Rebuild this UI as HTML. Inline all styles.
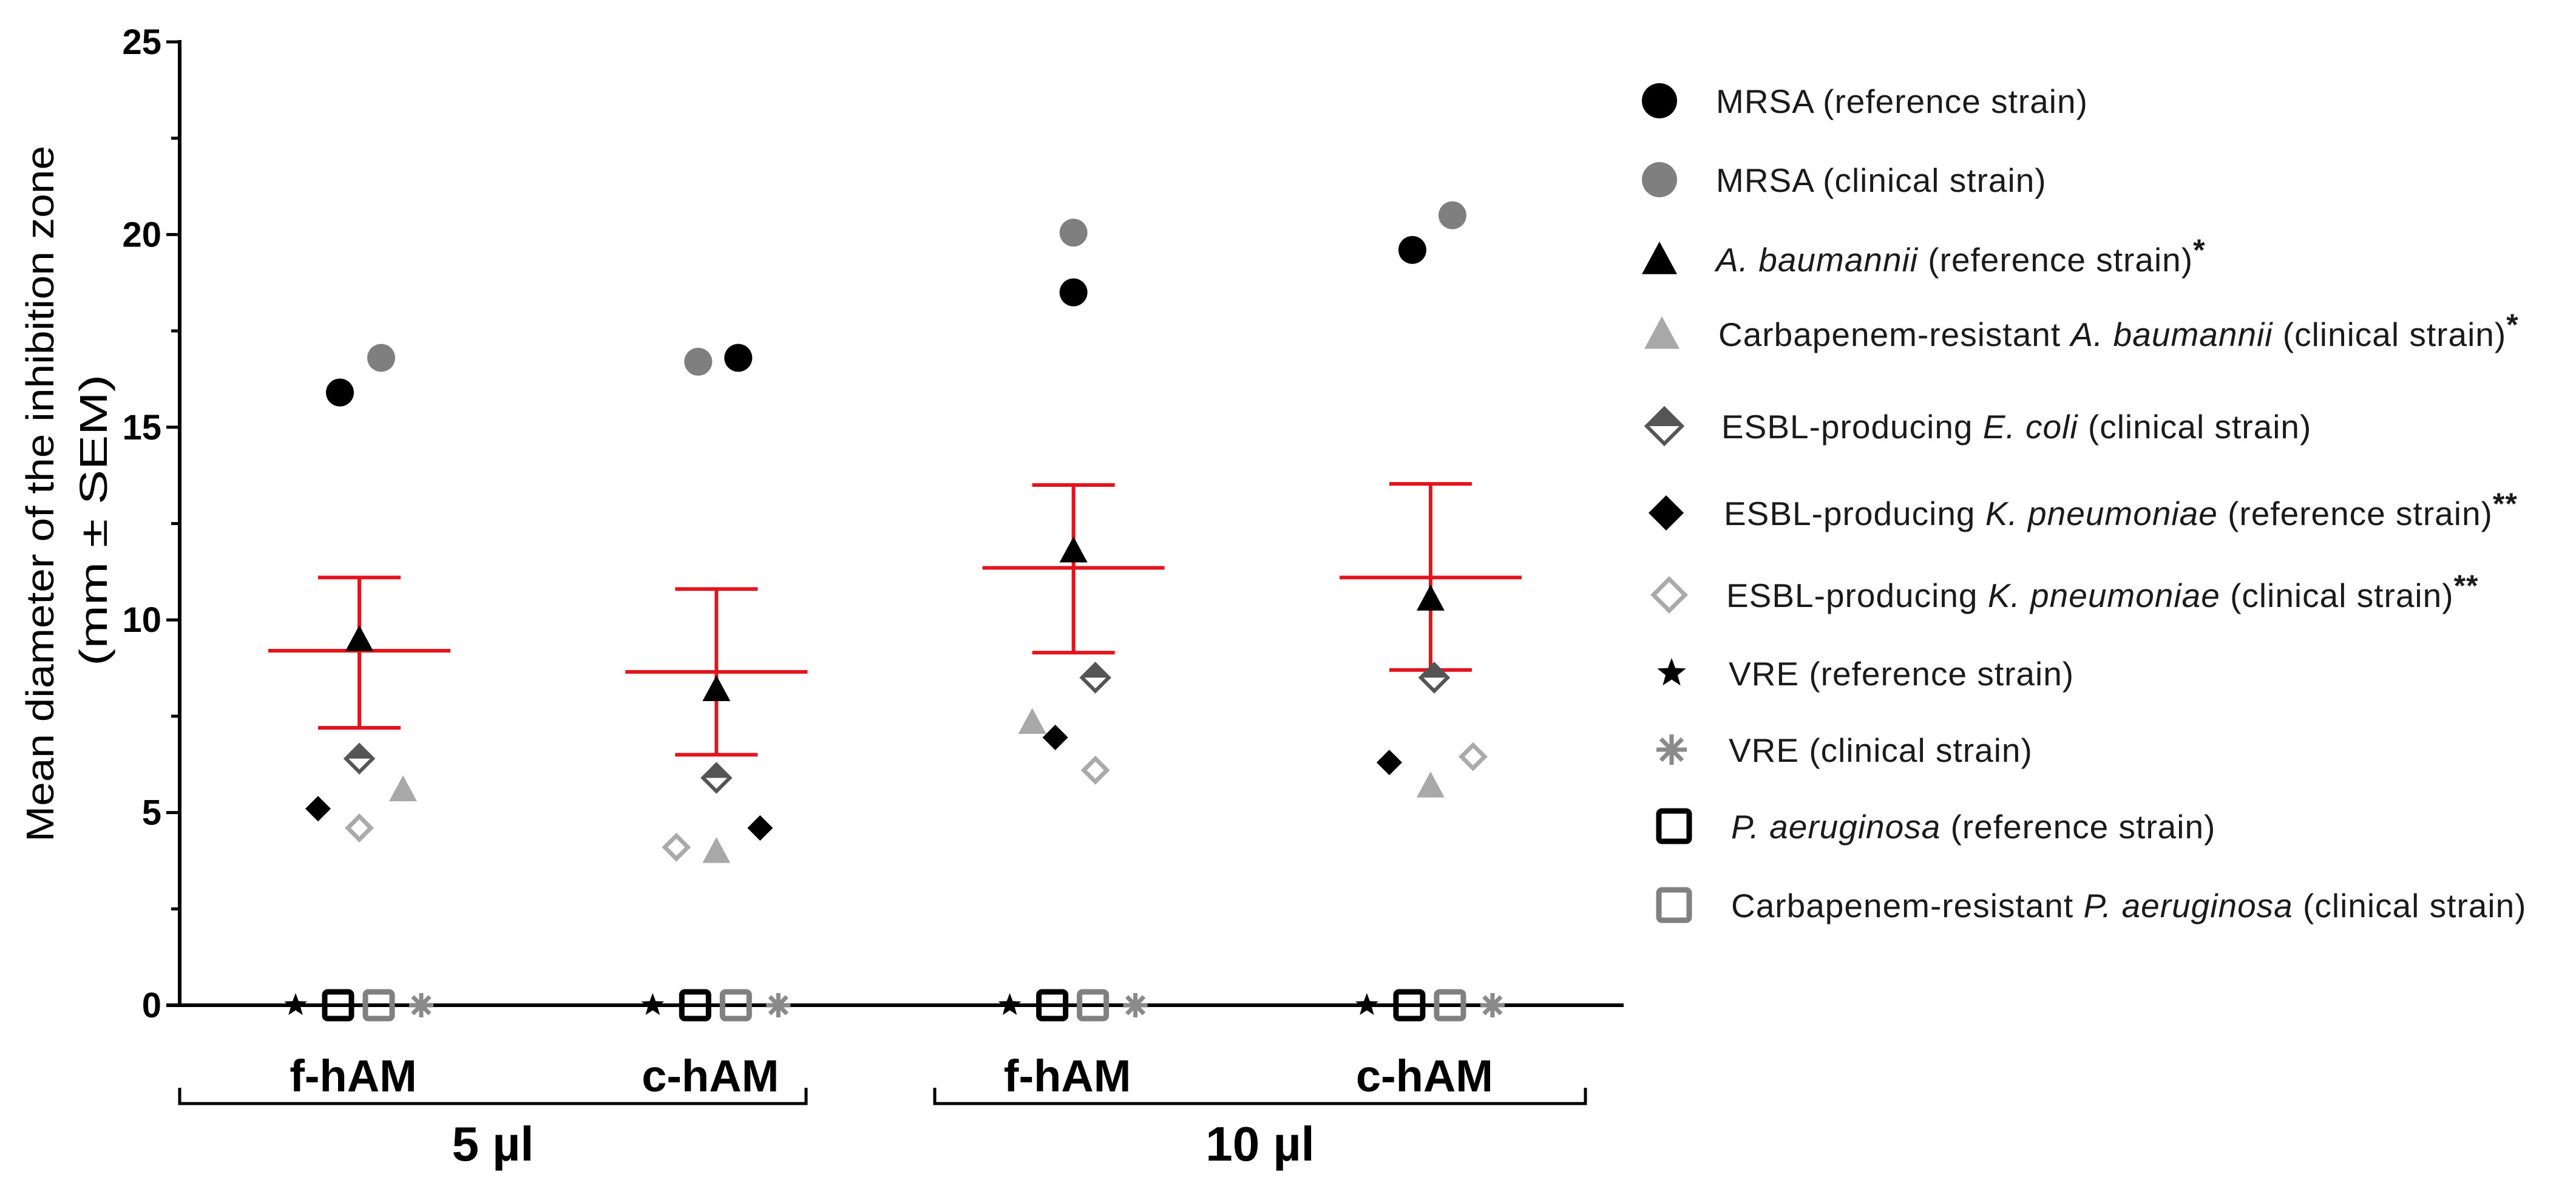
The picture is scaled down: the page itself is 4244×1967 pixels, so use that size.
<!DOCTYPE html>
<html><head><meta charset="utf-8"><style>
html,body{margin:0;padding:0;background:#fff;}
svg{display:block;font-family:"Liberation Sans",Arial,sans-serif;}
</style></head><body>
<svg id="chart" width="4244" height="1967" viewBox="0 0 4244 1967" xmlns="http://www.w3.org/2000/svg">
<rect width="4244" height="1967" fill="#fff"/>
<g id="yaxis"></g>
<g id="xaxis"></g>
<g id="errs"></g>
<g id="pts"></g>
<g id="legend"></g>
<text transform="translate(88,1387) rotate(-90)" font-size="64" textLength="1147" lengthAdjust="spacingAndGlyphs" fill="#000">Mean diameter of the inhibition zone</text>
<text transform="translate(176,1097) rotate(-90)" font-size="64" textLength="480" lengthAdjust="spacingAndGlyphs" fill="#000">(mm ± SEM)</text>
</svg>
<script>
const categories = ["f-hAM","c-hAM","f-hAM","c-hAM"];
const volumeGroups = ["5 µl","10 µl"];
const yTicks = [0,5,10,15,20,25];
const means = [9.2, 8.65, 11.35, 11.1];
const semUpper = [11.1, 10.8, 13.5, 13.53];
const semLower = [7.2, 6.5, 9.15, 8.7];
const mrsaRef = [15.9, 16.8, 18.5, 19.6];
const mrsaClin = [16.8, 16.7, 20.05, 20.5];
const abauRef = [9.5, 8.2, 11.8, 10.55];
const abauClin = [5.6, 4.0, 7.35, 5.7];
const ecoliClin = [6.4, 5.9, 8.5, 8.5];
const kpnRef = [5.1, 4.6, 6.95, 6.3];
const kpnClin = [4.6, 4.1, 6.1, 6.45];
const vreRef = [0, 0, 0, 0];
const vreClin = [0, 0, 0, 0];
const paeRef = [0, 0, 0, 0];
const paeClin = [0, 0, 0, 0];
// horizontal jitter offsets (px) of each marker within its category
const jitMrsaRef = [-32, 36, 0, -30];
const jitMrsaClin = [36, -30, 0, 36];
const jitAbauClin = [72, 0, -68, 0];
const jitEcoli = [0, 0, 36, 6];
const jitKpnRef = [-68, 72, -30, -68];
const jitKpnClin = [0, -66, 36, 70];

const NS = "http://www.w3.org/2000/svg";
const X0 = 296, X1 = 2675, Y0 = 1656, Y25 = 69;
function y(v){ return Y0 - (v/25)*(Y0-Y25); }
function x(i){ return 592 + i*588.3; }
function el(tag, attrs, parent){ const e=document.createElementNS(NS,tag); for(const k in attrs) e.setAttribute(k,attrs[k]); parent.appendChild(e); return e; }

// Y axis
const ya = document.getElementById('yaxis');
let yl = el('line',{x1:X0,y1:Y25-3,x2:X0,y2:Y0+3,stroke:'#000','stroke-width':6},ya);


for(let v=0; v<=25; v+=2.5){
  const major = (v%5===0);
  const t = el('line',{x1:X0-(major?22:14),y1:y(v),x2:X0,y2:y(v),stroke:'#000','stroke-width':5},ya);
  
  
}
yTicks.forEach(v=>{
  const t = el('text',{x:266,y:y(v)+20,'font-size':58,'font-weight':'bold','text-anchor':'end',fill:'#000'},ya);
  t.textContent = v;
  
  
});

// X axis
const xa = document.getElementById('xaxis');
let xl = el('line',{x1:X0-22,y1:Y0,x2:X1,y2:Y0,stroke:'#000','stroke-width':6},xa);


categories.forEach((c,i)=>{
  const t = el('text',{x:x(i)-10,y:1798,'font-size':74,'font-weight':'bold','text-anchor':'middle',fill:'#000'},xa);
  t.textContent = c;
  
  
});
const brackets = [[296,1328],[1540,2612]];
volumeGroups.forEach((g,i)=>{
  const [a,b] = brackets[i];
  const p = el('path',{d:`M${a} 1792 V1818 H${b} V1792`,fill:'none',stroke:'#000','stroke-width':5},xa);
  
  
  const t = el('text',{x:(a+b)/2,y:1912,'font-size':80,'font-weight':'bold','text-anchor':'middle',fill:'#000'},xa);
  t.textContent = g;
  
  
});

// Error bars
const eg = document.getElementById('errs');
const RED = '#e3141c';
means.forEach((m,i)=>{
  const cx = x(i);
  const g = el('g',{stroke:RED,'stroke-width':6,fill:'none'},eg);
  
  
  el('line',{x1:cx,y1:y(semUpper[i]),x2:cx,y2:y(semLower[i])},g);
  el('line',{x1:cx-68,y1:y(semUpper[i]),x2:cx+68,y2:y(semUpper[i])},g);
  el('line',{x1:cx-68,y1:y(semLower[i]),x2:cx+68,y2:y(semLower[i])},g);
  el('line',{x1:cx-150,y1:y(m),x2:cx+150,y2:y(m)},g);
});

// Marker drawing
function marker(type, cx, cy, s, parent){
  const g = el('g',{},parent);
  const h = s/2;
  switch(type){
    case 'circle-black': el('circle',{cx,cy,r:h,fill:'#000'},g); break;
    case 'circle-grey': el('circle',{cx,cy,r:h,fill:'#7f7f7f'},g); break;
    case 'tri-black': el('polygon',{points:`${cx},${cy-h} ${cx+h},${cy+h*0.85} ${cx-h},${cy+h*0.85}`,fill:'#000'},g); break;
    case 'tri-grey': el('polygon',{points:`${cx},${cy-h} ${cx+h},${cy+h*0.85} ${cx-h},${cy+h*0.85}`,fill:'#a8a8a8'},g); break;
    case 'dia-half':
      el('polygon',{points:`${cx},${cy-h} ${cx+h},${cy} ${cx},${cy+h} ${cx-h},${cy}`,fill:'#fff',stroke:'#555','stroke-width':6},g);
      el('polygon',{points:`${cx},${cy-h} ${cx+h},${cy} ${cx-h},${cy}`,fill:'#555'},g); break;
    case 'dia-black': el('polygon',{points:`${cx},${cy-h} ${cx+h},${cy} ${cx},${cy+h} ${cx-h},${cy}`,fill:'#000'},g); break;
    case 'dia-open': el('polygon',{points:`${cx},${cy-h+3} ${cx+h-3},${cy} ${cx},${cy+h-3} ${cx-h+3},${cy}`,fill:'#fff',stroke:'#aaa','stroke-width':7},g); break;
    case 'star': {
      let pts=[]; for(let k=0;k<10;k++){const r=k%2?h*0.42:h; const a=-Math.PI/2+k*Math.PI/5; pts.push(`${cx+r*Math.cos(a)},${cy+r*Math.sin(a)}`);}
      el('polygon',{points:pts.join(' '),fill:'#000'},g); break; }
    case 'asterisk':
      for(let k=0;k<4;k++){const a=k*Math.PI/4; el('line',{x1:cx-h*Math.cos(a),y1:cy-h*Math.sin(a),x2:cx+h*Math.cos(a),y2:cy+h*Math.sin(a),stroke:'#8a8a8a','stroke-width':7},g);} break;
    case 'sq-black': el('rect',{x:cx-h+4,y:cy-h+4,width:s-8,height:s-8,rx:5,fill:'none',stroke:'#000','stroke-width':9},g); break;
    case 'sq-grey': el('rect',{x:cx-h+4,y:cy-h+4,width:s-8,height:s-8,rx:5,fill:'none',stroke:'#808080','stroke-width':9},g); break;
  }
  return g;
}

const series = [
  {name:'MRSA (reference strain)', data:mrsaRef, jit:jitMrsaRef, type:'circle-black', size:46},
  {name:'MRSA (clinical strain)', data:mrsaClin, jit:jitMrsaClin, type:'circle-grey', size:46},
  {name:'A. baumannii ref', data:abauRef, jit:[0,0,0,0], type:'tri-black', size:46},
  {name:'CR A. baumannii', data:abauClin, jit:jitAbauClin, type:'tri-grey', size:46},
  {name:'E. coli', data:ecoliClin, jit:jitEcoli, type:'dia-half', size:44},
  {name:'K. pneumoniae ref', data:kpnRef, jit:jitKpnRef, type:'dia-black', size:42},
  {name:'K. pneumoniae clin', data:kpnClin, jit:jitKpnClin, type:'dia-open', size:44},
  {name:'VRE ref', data:vreRef, jit:[-105,-105,-105,-105], type:'star', size:40},
  {name:'VRE clin', data:vreClin, jit:[102,102,102,102], type:'asterisk', size:40},
  {name:'P. aeruginosa ref', data:paeRef, jit:[-35,-35,-35,-35], type:'sq-black', size:52},
  {name:'CR P. aeruginosa', data:paeClin, jit:[32,32,32,32], type:'sq-grey', size:52}
];
const pg = document.getElementById('pts');
series.forEach(s=>{
  s.data.forEach((v,i)=>{
    const m = marker(s.type, x(i)+s.jit[i], y(v), s.size, pg);
    
    
  });
});

// Legend
const lg = document.getElementById('legend');
const legendRows = [
  ['circle-black',[['MRSA (reference strain)',0]],''],
  ['circle-grey',[['MRSA (clinical strain)',0]],''],
  ['tri-black',[['A. baumannii',1],[' (reference strain)',0]],'*'],
  ['tri-grey',[['Carbapenem-resistant ',0],['A. baumannii',1],[' (clinical strain)',0]],'*'],
  ['dia-half',[['ESBL-producing ',0],['E. coli',1],[' (clinical strain)',0]],''],
  ['dia-black',[['ESBL-producing ',0],['K. pneumoniae',1],[' (reference strain)',0]],'**'],
  ['dia-open',[['ESBL-producing ',0],['K. pneumoniae',1],[' (clinical strain)',0]],'**'],
  ['star',[['VRE (reference strain)',0]],''],
  ['asterisk',[['VRE (clinical strain)',0]],''],
  ['sq-black',[['P. aeruginosa',1],[' (reference strain)',0]],''],
  ['sq-grey',[['Carbapenem-resistant ',0],['P. aeruginosa',1],[' (clinical strain)',0]],'']
];
const rowY = [166,296,427,550,702,845,980,1109,1235,1361,1491];
const rowMX = [2734,2734,2734,2738,2742,2745,2750,2754,2754,2758,2758];
const rowTX = [2827,2827,2827,2831,2836,2840,2844,2848,2848,2852,2852];
legendRows.forEach((r,i)=>{
  const m = marker(r[0], rowMX[i], rowY[i], r[0].startsWith('sq')?58:(r[0]==='star'||r[0]==='asterisk'?50:58), lg);
  
  
  const t = el('text',{x:rowTX[i],y:rowY[i]+20,'font-size':55,fill:'#1a1a1a','letter-spacing':1},lg);
  
  
  r[1].forEach(([txt,it])=>{ const sp=el('tspan',{},t); if(it) sp.setAttribute('font-style','italic'); sp.textContent=txt; });
  if(r[2]){ const sp=el('tspan',{dy:-18,'font-weight':'bold','font-size':50},t); sp.textContent=r[2]; }
});
</script>
</body></html>
